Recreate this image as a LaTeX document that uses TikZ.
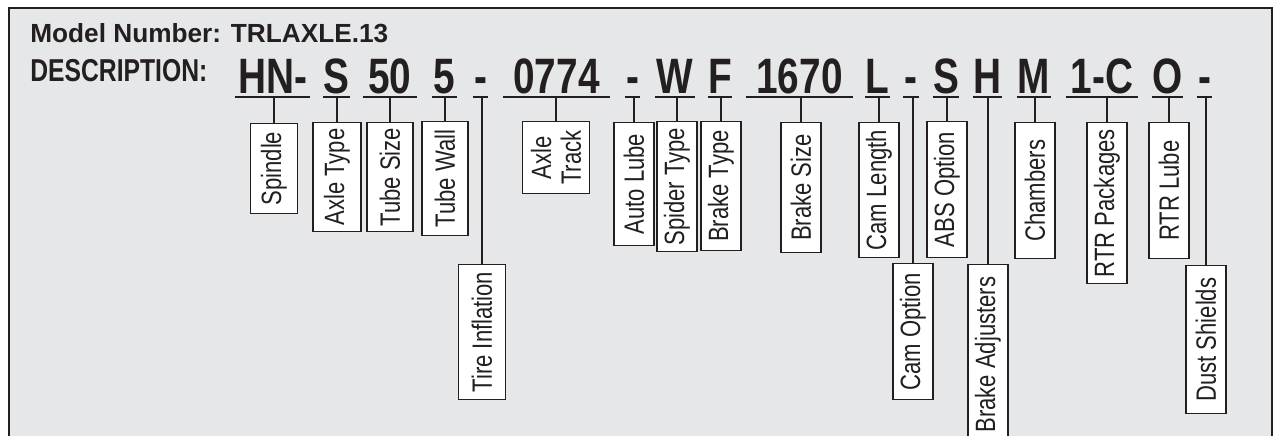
\documentclass[tikz,border=0pt]{standalone}
\usepackage{fontspec}
\usepackage{xcolor}
\usepackage{graphicx}
\usetikzlibrary{positioning}
\setmainfont{Liberation Sans}
\newfontfamily\codefont{Liberation Sans}[FakeStretch=0.78]
\newfontfamily\lblfont{Liberation Sans}[FakeStretch=0.79]
\definecolor{pgray}{RGB}{230,231,232}
\definecolor{pdark}{RGB}{35,31,32}

\begin{document}
\begin{tikzpicture}[
  x=0.02cm,y=-0.02cm,
  hdr/.style={anchor=base west,inner sep=0pt,text=pdark},
  uline/.style={draw=pdark,line width=1.2pt},
  code/.style={anchor=base,inner xsep=0pt,inner ysep=0.08cm,text depth=0pt,
               text=pdark,font=\codefont\bfseries\fontsize{28.3}{30}\selectfont,
               append after command={(\tikzlastnode.south west) edge[uline] (\tikzlastnode.south east)}},
  lbl/.style={draw=pdark,fill=white,line width=0.7pt,rotate=90,anchor=east,
              inner sep=0pt,minimum height=0.8cm,align=center,text=pdark,
              font=\lblfont\fontsize{15.9}{17}\selectfont},
  stem/.style={draw=pdark,line width=1.2pt}
]
  \useasboundingbox (0,0) rectangle (1276,436);
  \clip (0,0) rectangle (1276,436);
  \fill[white] (0,0) rectangle (1276,436);
  \draw[fill=pgray,draw=pdark,line width=1.4pt] (9,8) rectangle (1272,470);

  % Heading
  \node[hdr,font=\bfseries\fontsize{15}{18}\selectfont] (model) at (30,42)
    {\resizebox{7.16cm}{!}{Model Number: TRLAXLE.13}};
  \node[hdr,font=\codefont\bfseries\fontsize{17.6}{20}\selectfont] (desc) at (30,82)
    {\resizebox{3.54cm}{!}{DESCRIPTION:}};

  % Code segments
  \node[code,minimum width=1.5cm]  (c1)  at (272.5,93) {HN-};
  \node[code,minimum width=0.46cm] (c2)  at (336.5,93) {S};
  \node[code,minimum width=1.08cm] (c3)  at (390,93)   {50};
  \node[code,minimum width=0.5cm]  (c4)  at (444.5,93) {5};
  \node[code,minimum width=0.3cm]  (c5)  at (480.5,93) {-};
  \node[code,minimum width=2.14cm] (c6)  at (556.5,93) {0774};
  \node[code,minimum width=0.3cm]  (c7)  at (632.5,93) {-};
  \node[code,minimum width=0.8cm]  (c8)  at (675,93)   {W};
  \node[code,minimum width=0.4cm]  (c9)  at (720,93)   {F};
  \node[code,minimum width=2.14cm] (c10) at (799.5,93) {1670};
  \node[code,minimum width=0.42cm] (c11) at (877.5,93) {L};
  \node[code,minimum width=0.32cm] (c12) at (911,93)   {-};
  \node[code,minimum width=0.48cm] (c13) at (946,93)   {S};
  \node[code,minimum width=0.58cm] (c14) at (987.5,93) {H};
  \node[code,minimum width=0.68cm] (c15) at (1034,93)  {M};
  \node[code,minimum width=1.44cm] (c16) at (1102,93)  {1-C};
  \node[code,minimum width=0.58cm] (c17) at (1167.5,93) {O};
  \node[code,minimum width=0.3cm]  (c18) at (1204.5,93) {-};

  % Labels
  \node[lbl,minimum width=1.8cm,minimum height=0.94cm]  (spindle)  at (274,123)  {Spindle};
  \node[lbl,minimum width=2.18cm,minimum height=0.96cm] (axletype) at (337,122)  {Axle Type};
  \node[lbl,minimum width=2.18cm,minimum height=0.92cm] (tubesize) at (390,122)  {Tube Size};
  \node[lbl,minimum width=2.28cm,minimum height=0.92cm] (tubewall) at (445,121)  {Tube Wall};
  \node[lbl,minimum width=2.7cm,minimum height=0.94cm]  (tire)     at (482,264)  {Tire Inflation};
  \node[lbl,minimum width=1.44cm,minimum height=1.34cm] (track)    at (556,121)  {Axle\\Track};
  \node[lbl,minimum width=2.46cm] (autolube)  at (634,122)  {Auto Lube};
  \node[lbl,minimum width=2.6cm]  (spider)    at (677,121)  {Spider Type};
  \node[lbl,minimum width=2.58cm] (braketype) at (721,121)  {Brake Type};
  \node[lbl,minimum width=2.6cm]  (brakesize) at (801,122)  {Brake Size};
  \node[lbl,minimum width=2.7cm]  (camlen)    at (879,122)  {Cam Length};
  \node[lbl,minimum width=2.72cm] (camopt)    at (913,263)  {Cam Option};
  \node[lbl,minimum width=2.72cm] (abs)       at (947,121)  {ABS Option};
  \node[lbl,minimum width=3.6cm]  (adjust)    at (988,264)  {Brake Adjusters};
  \node[lbl,minimum width=2.72cm] (chambers)  at (1035,122) {Chambers};
  \node[lbl,minimum width=3.22cm] (rtrpack)   at (1107,122) {RTR Packages};
  \node[lbl,minimum width=2.72cm] (rtrlube)   at (1169,122) {RTR Lube};
  \node[lbl,minimum width=2.96cm] (dust)      at (1206,265) {Dust Shields};

  % Stems
  \draw[stem] (spindle.east)   -- (spindle.east |- c1.south);
  \draw[stem] (axletype.east)  -- (axletype.east |- c2.south);
  \draw[stem] (tubesize.east)  -- (tubesize.east |- c3.south);
  \draw[stem] (tubewall.east)  -- (tubewall.east |- c4.south);
  \draw[stem] (tire.east)      -- (tire.east |- c5.south);
  \draw[stem] (track.east)     -- (track.east |- c6.south);
  \draw[stem] (autolube.east)  -- (autolube.east |- c7.south);
  \draw[stem] (spider.east)    -- (spider.east |- c8.south);
  \draw[stem] (braketype.east) -- (braketype.east |- c9.south);
  \draw[stem] (brakesize.east) -- (brakesize.east |- c10.south);
  \draw[stem] (camlen.east)    -- (camlen.east |- c11.south);
  \draw[stem] (camopt.east)    -- (camopt.east |- c12.south);
  \draw[stem] (abs.east)       -- (abs.east |- c13.south);
  \draw[stem] (adjust.east)    -- (adjust.east |- c14.south);
  \draw[stem] (chambers.east)  -- (chambers.east |- c15.south);
  \draw[stem] (rtrpack.east)   -- (rtrpack.east |- c16.south);
  \draw[stem] (rtrlube.east)   -- (rtrlube.east |- c17.south);
  \draw[stem] (dust.east)      -- (dust.east |- c18.south);
\end{tikzpicture}
\end{document}
